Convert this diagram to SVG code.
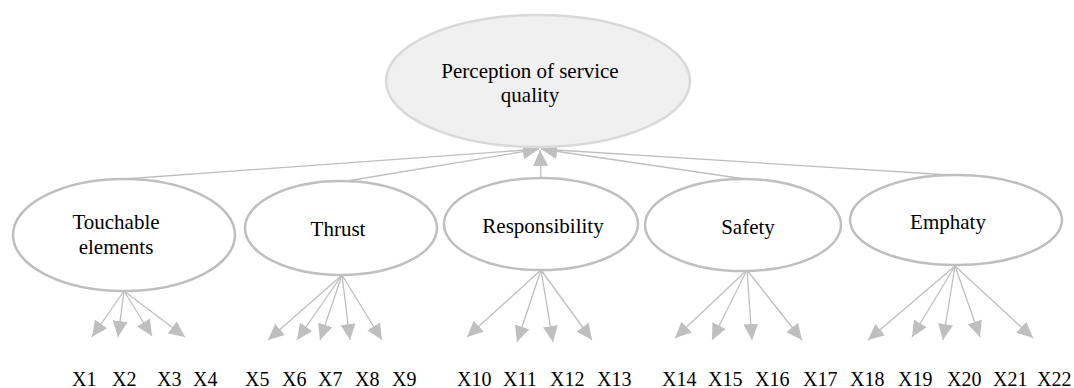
<svg xmlns="http://www.w3.org/2000/svg" width="1074" height="388" viewBox="0 0 1074 388">
  <style>
    .node ellipse { fill: #ffffff; stroke: #bfbfbf; stroke-width: 2.5; }
    #quality ellipse { fill: #f0f0f0; stroke: #d9d9d9; stroke-width: 2.5; }
    .lbl { font-size: 21px; text-anchor: middle; }
    .item { font-size: 20px; }
    #connectors line { stroke: #bfbfbf; stroke-width: 1.3; fill: none; marker-end: url(#head); }
  </style>
  <defs>
    <marker id="head" markerUnits="userSpaceOnUse" markerWidth="16" markerHeight="15" refX="16" refY="7.5" orient="auto">
      <path d="M0,0 L16,7.5 L0,15 z" fill="#bfbfbf"/>
    </marker>
  </defs>

  <!-- connectors: dimensions to overall quality, indicators out of each dimension -->
  <g id="connectors">
    <line x1="124" y1="179" x2="539" y2="149"/>
    <line x1="341" y1="182" x2="539" y2="149"/>
    <line x1="541" y1="178" x2="540" y2="150"/>
    <line x1="745" y1="179" x2="541" y2="149"/>
    <line x1="950" y1="175" x2="541" y2="149"/>

    <line x1="124" y1="291" x2="92" y2="337"/>
    <line x1="124" y1="291" x2="118" y2="337"/>
    <line x1="124" y1="291" x2="152" y2="336"/>
    <line x1="124" y1="291" x2="185" y2="337"/>

    <line x1="342" y1="275" x2="268" y2="340"/>
    <line x1="342" y1="275" x2="297" y2="340"/>
    <line x1="342" y1="275" x2="320" y2="340"/>
    <line x1="342" y1="275" x2="350" y2="340"/>
    <line x1="342" y1="275" x2="382" y2="340"/>

    <line x1="541" y1="270" x2="467" y2="337"/>
    <line x1="541" y1="270" x2="517" y2="342"/>
    <line x1="541" y1="270" x2="553" y2="342"/>
    <line x1="541" y1="270" x2="592" y2="340"/>

    <line x1="747" y1="270" x2="675" y2="338"/>
    <line x1="747" y1="270" x2="712" y2="340"/>
    <line x1="747" y1="270" x2="752" y2="340"/>
    <line x1="747" y1="270" x2="802" y2="340"/>

    <line x1="955" y1="266" x2="868" y2="340"/>
    <line x1="955" y1="266" x2="912" y2="337"/>
    <line x1="955" y1="266" x2="943" y2="340"/>
    <line x1="955" y1="266" x2="980" y2="337"/>
    <line x1="955" y1="266" x2="1033" y2="338"/>
  </g>

  <g font-family="'Liberation Serif', 'Times New Roman', Times, serif" fill="#000000">
    <g id="quality" class="node">
      <ellipse cx="538" cy="81" rx="152" ry="66"/>
      <text class="lbl" x="530" y="78">Perception of service</text>
      <text class="lbl" x="530" y="102">quality</text>
    </g>

    <g id="tangibles" class="node">
      <ellipse cx="124" cy="235" rx="111" ry="56"/>
      <text class="lbl" x="116" y="229">Touchable</text>
      <text class="lbl" x="116" y="254">elements</text>
    </g>

    <g id="trust" class="node">
      <ellipse cx="341" cy="228" rx="96" ry="47"/>
      <text class="lbl" x="338" y="236">Thrust</text>
    </g>

    <g id="responsibility" class="node">
      <ellipse cx="541" cy="224" rx="97" ry="46"/>
      <text class="lbl" x="543" y="233">Responsibility</text>
    </g>

    <g id="safety" class="node">
      <ellipse cx="743" cy="225" rx="98" ry="46"/>
      <text class="lbl" x="748" y="234">Safety</text>
    </g>

    <g id="empathy" class="node">
      <ellipse cx="956" cy="220" rx="106" ry="45"/>
      <text class="lbl" x="948" y="229">Emphaty</text>
    </g>

    <!-- observed indicators -->
    <g id="indicators" class="item">
      <text x="72" y="386">X1</text>
      <text x="112" y="386">X2</text>
      <text x="157" y="386">X3</text>
      <text x="193" y="386">X4</text>
      <text x="245" y="386">X5</text>
      <text x="282" y="386">X6</text>
      <text x="318" y="386">X7</text>
      <text x="355" y="386">X8</text>
      <text x="392" y="386">X9</text>
      <text x="457" y="386">X10</text>
      <text x="503" y="386">X11</text>
      <text x="550" y="386">X12</text>
      <text x="597" y="386">X13</text>
      <text x="662" y="386">X14</text>
      <text x="708" y="386">X15</text>
      <text x="755" y="386">X16</text>
      <text x="803" y="386">X17</text>
      <text x="850" y="386">X18</text>
      <text x="898" y="386">X19</text>
      <text x="947" y="386">X20</text>
      <text x="993" y="386">X21</text>
      <text x="1037" y="386">X22</text>
    </g>
  </g>
</svg>
